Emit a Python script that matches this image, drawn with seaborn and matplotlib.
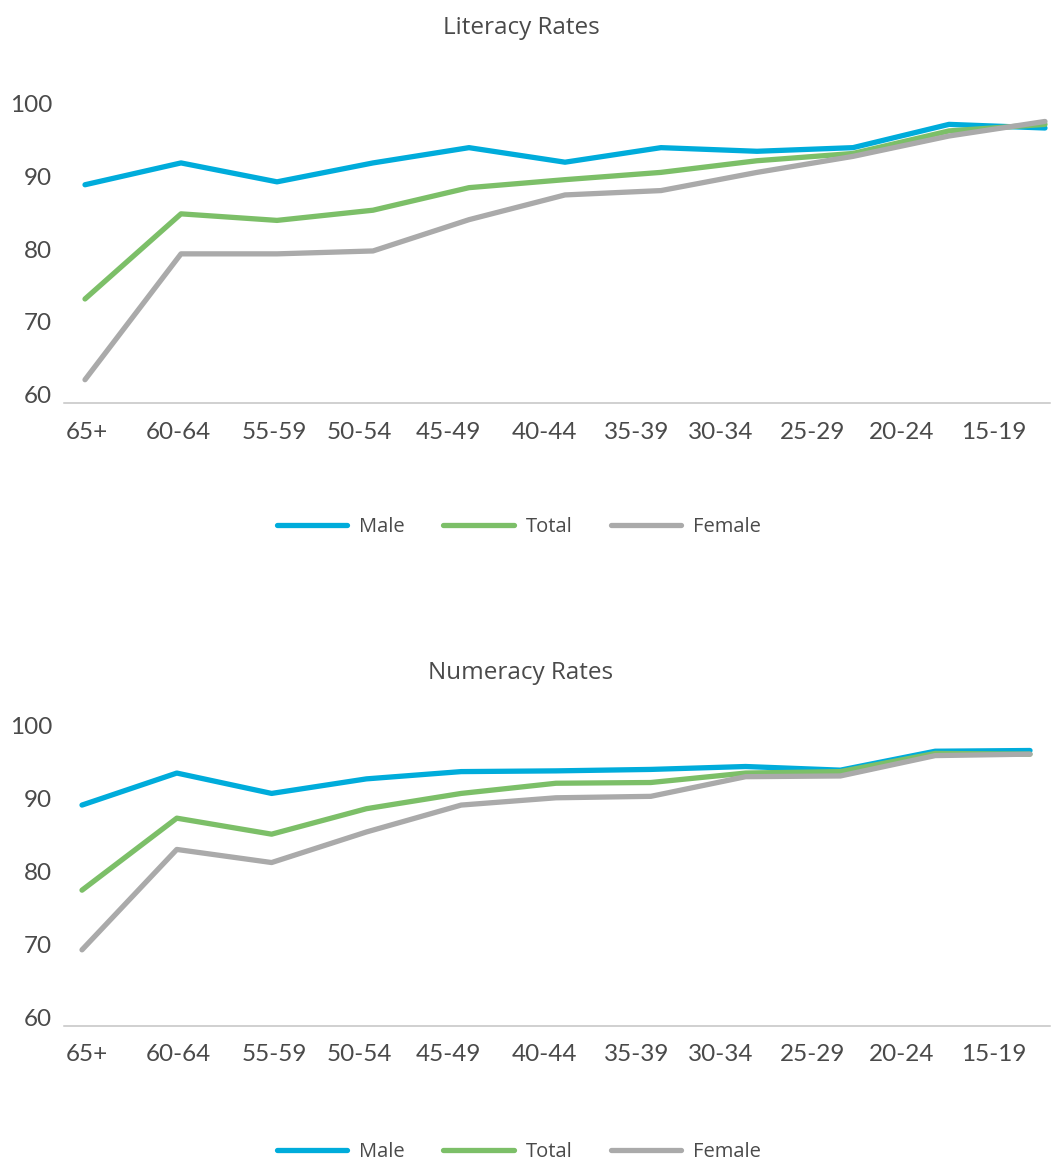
import matplotlib

matplotlib.use("Agg")
import matplotlib.pyplot as plt
import pandas as pd
import seaborn as sns


AGE_GROUPS = ["65+", "60-64", "55-59", "50-54", "45-49", "40-44",
              "35-39", "30-34", "25-29", "20-24", "15-19"]
SERIES = ["Male", "Total", "Female"]

LIT_MALE = [90.0, 93.0, 90.4, 93.0, 95.1, 93.1, 95.1, 94.6, 95.1, 98.3, 97.8]
LIT_TOTAL = [74.3, 86.0, 85.1, 86.5, 89.6, 90.7, 91.7, 93.3, 94.3, 97.4, 98.3]
LIT_FEMALE = [63.2, 80.5, 80.5, 80.9, 85.2, 88.6, 89.2, 91.7, 93.9, 96.7, 98.7]

NUM_MALE = [90.3, 94.7, 91.9, 93.9, 94.9, 95.0, 95.2, 95.6, 95.1, 97.7, 97.8]
NUM_TOTAL = [78.6, 88.5, 86.3, 89.8, 91.9, 93.3, 93.4, 94.7, 94.9, 97.4, 97.3]
NUM_FEMALE = [70.4, 84.2, 82.4, 86.6, 90.3, 91.3, 91.5, 94.2, 94.3, 97.1, 97.3]

Y_TICKS = [60, 70, 80, 90, 100]

PALETTE = {"Male": "#00acdb", "Total": "#7cbf68", "Female": "#aaaaaa"}
TEXT_COLOR = "#4a4a4a"

# layout in pixels of the 1051x1160 canvas
FIG_W, FIG_H = 1051, 1160
AX_LEFT_PX, AX_RIGHT_PX = 64, 1050
TICK_CENTER_PX = [87, 178, 274, 359, 448, 544, 637, 721, 813, 902, 994]


def to_long(male, total, female):
    rows = []
    for name, vals in zip(SERIES, [male, total, female]):
        for i, v in enumerate(vals):
            rows.append({"pos": i, "age": AGE_GROUPS[i], "sex": name, "rate": v})
    return pd.DataFrame(rows)


def draw_panel(fig, title, top_px, bottom_px, title_px, legend_px,
               first_px, last_px, male, total, female):
    rect = (AX_LEFT_PX / FIG_W, 1 - bottom_px / FIG_H,
            (AX_RIGHT_PX - AX_LEFT_PX) / FIG_W, (bottom_px - top_px) / FIG_H)
    ax = fig.add_axes(rect)
    df = to_long(male, total, female)

    sns.lineplot(
        data=df,
        x="pos",
        y="rate",
        hue="sex",
        hue_order=SERIES,
        palette=PALETTE,
        linewidth=3.8,
        sort=False,
        solid_capstyle="round",
        solid_joinstyle="round",
        ax=ax,
    )
    for line in ax.get_lines():
        line.set_clip_on(False)

    step = (last_px - first_px) / (len(AGE_GROUPS) - 1)
    x0 = -(first_px - AX_LEFT_PX) / step
    x1 = (len(AGE_GROUPS) - 1) + (AX_RIGHT_PX - last_px) / step
    ax.set_xlim(x0, x1)
    ax.set_ylim(60, 100)

    span = AX_RIGHT_PX - AX_LEFT_PX
    ticks = [x0 + (c - AX_LEFT_PX) / span * (x1 - x0) for c in TICK_CENTER_PX]
    ax.set_xticks(ticks)
    ax.set_xticklabels(AGE_GROUPS, fontfamily=["Lato", "DejaVu Sans"])
    ax.set_yticks(Y_TICKS)
    ax.set_yticklabels([str(t) for t in Y_TICKS], fontfamily=["Lato", "DejaVu Sans"])
    for lbl in ax.get_yticklabels():
        lbl.set_va("baseline")

    ax.tick_params(axis="x", length=0, pad=13.5, labelsize=17.5, labelcolor=TEXT_COLOR)
    ax.tick_params(axis="y", length=0, pad=8.5, labelsize=17.5, labelcolor=TEXT_COLOR)
    ax.set_xlabel("")
    ax.set_ylabel("")
    ax.grid(False)

    for side in ["top", "left", "right"]:
        ax.spines[side].set_visible(False)
    ax.spines["bottom"].set_color("#c4c4c4")
    ax.spines["bottom"].set_linewidth(1.1)

    fig.text(521 / FIG_W, 1 - title_px / FIG_H, title, ha="center", va="center",
             fontsize=17.5, fontweight="medium", color=TEXT_COLOR)

    handles, labels = ax.get_legend_handles_labels()
    if ax.get_legend() is not None:
        ax.get_legend().remove()
    ax.legend(
        handles,
        labels,
        loc="center",
        bbox_to_anchor=(519 / FIG_W, 1 - legend_px / FIG_H),
        bbox_transform=fig.transFigure,
        ncol=3,
        frameon=False,
        handlelength=3.5,
        handletextpad=0.6,
        columnspacing=1.9,
        borderpad=0,
        prop={"size": 14.5, "weight": "medium"},
        labelcolor=TEXT_COLOR,
    )
    return ax


def main() -> None:
    sns.set_theme(style="white")
    plt.rcParams["font.family"] = ["Open Sans", "DejaVu Sans"]

    fig = plt.figure(figsize=(FIG_W / 100, FIG_H / 100), dpi=100)
    fig.patch.set_facecolor("white")

    draw_panel(fig, "Literacy Rates", 112, 403, 28, 527, 85, 1045,
               LIT_MALE, LIT_TOTAL, LIT_FEMALE)
    draw_panel(fig, "Numeracy Rates", 734.5, 1025.5, 673, 1152, 82, 1030,
               NUM_MALE, NUM_TOTAL, NUM_FEMALE)

    fig.savefig("out.png", dpi=100)
    plt.close(fig)


if __name__ == "__main__":
    main()
